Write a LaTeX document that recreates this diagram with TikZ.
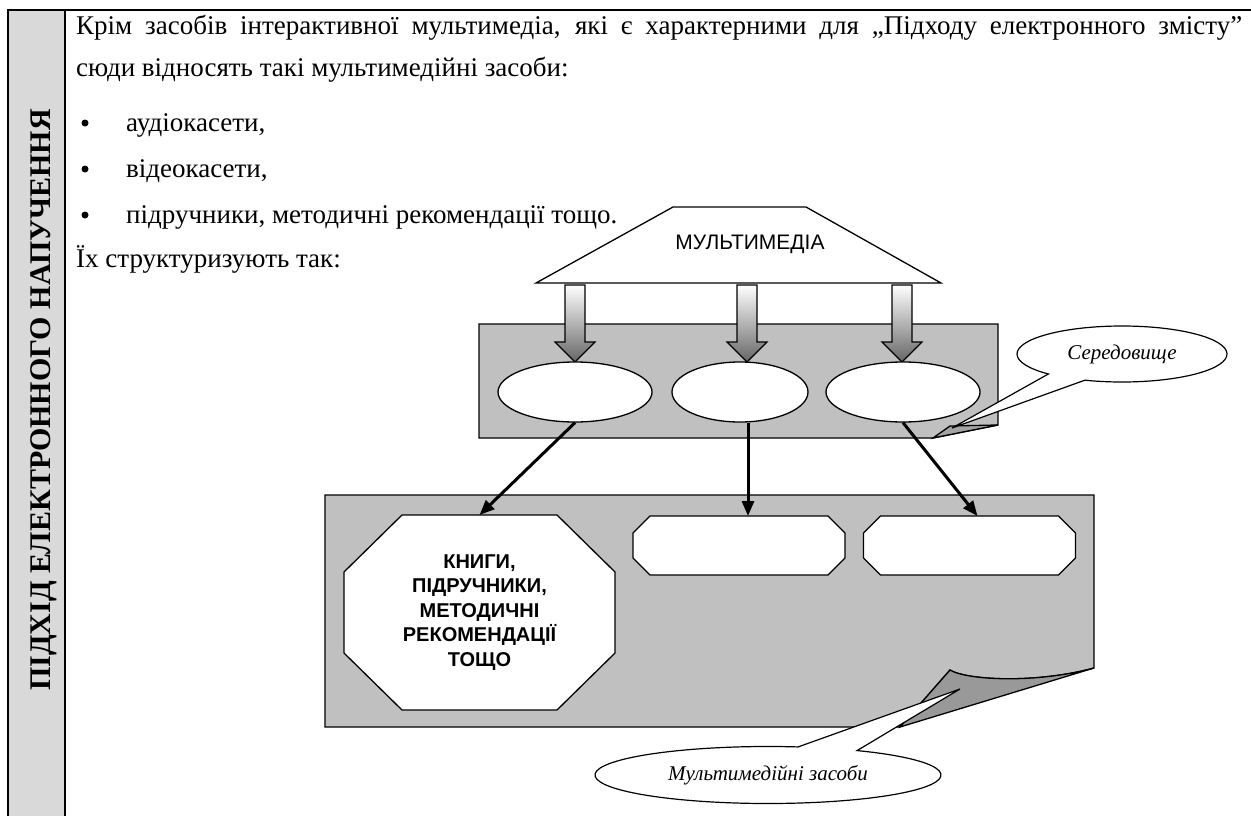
\documentclass[tikz,border=0pt]{standalone}
\usepackage{fontspec}
\setmainfont{Liberation Serif}
\newfontfamily\arialfont{Liberation Sans}
\usetikzlibrary{arrows.meta,calc,shapes.geometric}
\definecolor{sheetgray}{HTML}{C0C0C0}
\definecolor{colgray}{HTML}{D9D9D9}
\definecolor{flapgray}{HTML}{999999}

% octagon-like outline drawn around an (empty) anchor node
\newcommand\cutbox[3]{%
  \draw[shapeline, fill=white]
    ($(#1.north west)+(#2,0)$) -- ($(#1.north east)+(-#2,0)$) --
    ($(#1.north east)+(0,#3)$) -- ($(#1.south east)+(0,-#3)$) --
    ($(#1.south east)+(-#2,0)$) -- ($(#1.south west)+(#2,0)$) --
    ($(#1.south west)+(0,-#3)$) -- ($(#1.north west)+(0,#3)$) -- cycle;}

\begin{document}
\begin{tikzpicture}[x=1pt,y=-1pt,line join=miter,
  shapeline/.style={draw=black,line width=1.3pt},
  bodytext/.style={anchor=base west,inner sep=0pt,font=\fontsize{27}{31}\selectfont},
  bulletdot/.style={circle,fill=black,inner sep=0pt,minimum size=7pt},
  anchorbox/.style={inner sep=0pt,outer sep=0pt},
  flow/.style={line width=3pt,-{Triangle[length=15pt,width=12pt]}},
  calloutfont/.style={font=\itshape\fontsize{21}{25}\selectfont}]
\useasboundingbox (0,0) rectangle (1251,816);

% ---- table column with the vertical heading
\fill[colgray] (8,10) rectangle (65,816);
\draw[line width=2.2pt] (8,816) -- (8,10) -- (1251,10);
\draw[line width=2.2pt] (65,10) -- (65,816);
\node[rotate=90,inner sep=0pt,font=\bfseries\fontsize{30}{30}\selectfont] (side) at (44,400)
  {ПІДХІД ЕЛЕКТРОННОГО НАПУЧЕННЯ};

% ---- paragraph text
\node[bodytext] (l1) at (76,35) {\makebox[1166pt][s]{Крім засобів інтерактивної мультимедіа, які є характерними для „Підходу електронного змісту”}};
\node[bodytext] (l2) at (76,77) {сюди відносять такі мультимедійні засоби:};
\node[bulletdot] (b1) at (85,123) {};
\node[bodytext] (l3) at (126,131) {аудіокасети,};
\node[bulletdot] (b2) at (85,169) {};
\node[bodytext] (l4) at (126,177) {відеокасети,};
\node[bulletdot] (b3) at (85,215) {};
\node[bodytext] (l5) at (126,223) {підручники, методичні рекомендації тощо.};
\node[bodytext] (l6) at (76,267) {Їх структуризують так:};

% ---- upper sheet ("environment") with folded corner
\draw[shapeline,fill=sheetgray] (479,324) -- (998,324) -- (998,425) -- (933,438) -- (479,438) -- cycle;
\draw[shapeline,fill=sheetgray!85!black] (933,438) -- (950,426) -- (998,425) -- cycle;

% ---- block arrows from the multimedia block
\foreach \cx in {575,747,902}{
  \shade[top color=white,bottom color=black!60,draw=black,line width=1.2pt]
    (\cx-10,285) -- (\cx+10,285) -- (\cx+10,342) -- (\cx+20,342) -- (\cx,362)
    -- (\cx-20,342) -- (\cx-10,342) -- cycle;
}

% ---- multimedia trapezoid
\draw[shapeline,fill=white] (536,283) -- (673,207) -- (806,207) -- (941,283) -- cycle;
\node[inner sep=0pt,font=\arialfont\fontsize{21}{21}\selectfont] (mm) at (750,244) {МУЛЬТИМЕДІА};

% ---- ellipses on the upper sheet
\node[shapeline,fill=white,ellipse,minimum width=154pt,minimum height=60pt,inner sep=0pt] (e1) at (575,392) {};
\node[shapeline,fill=white,ellipse,minimum width=136pt,minimum height=60pt,inner sep=0pt] (e2) at (740,392) {};
\node[shapeline,fill=white,ellipse,minimum width=154pt,minimum height=60pt,inner sep=0pt] (e3) at (903,392) {};

% ---- lower sheet ("multimedia means") with curled corner
\draw[shapeline,fill=sheetgray] (325,495) -- (1094,495) -- (1094,668)
  .. controls (1035,684) and (966,680) .. (950,670) -- (900,727) -- (325,727) -- cycle;
\draw[shapeline,fill=flapgray] (950,670) .. controls (966,680) and (1035,684) .. (1094,668)
  -- (900,727) -- cycle;

% ---- boxes on the lower sheet
\node[anchorbox,minimum width=271pt,minimum height=195pt] (oct) at (479.5,612.5) {};
\cutbox{oct}{58}{57}
\node[align=center,inner sep=0pt,font=\arialfont\bfseries\fontsize{20}{24.5}\selectfont] (octtext) at (oct.center)
  {КНИГИ,\\ПІДРУЧНИКИ,\\МЕТОДИЧНІ\\РЕКОМЕНДАЦІЇ\\ТОЩО};
\node[anchorbox,minimum width=212pt,minimum height=59pt] (bx1) at (739,545.5) {};
\cutbox{bx1}{17}{17}
\node[anchorbox,minimum width=212pt,minimum height=59pt] (bx2) at (969.5,545.5) {};
\cutbox{bx2}{17}{17}

% ---- connectors
\draw[flow] (e1.south) -- (oct.north);
\draw[flow] ([xshift=8pt]e2.south) -- ([xshift=9pt]bx1.north);
\draw[flow] (e3.south) -- ([xshift=8pt]bx2.north);

% ---- callouts
\draw[shapeline,line width=1.2pt,fill=white] (1122,354) ++(134.5:105 and 28)
  arc[start angle=134.5,end angle=470.7,x radius=105,y radius=28] -- (952,428) -- cycle;
\node[calloutfont,inner sep=0pt] (env) at (1122,354) {Середовище};

\draw[shapeline,line width=1.2pt,fill=white] (768,775) ++(-59:173 and 28.5)
  arc[start angle=-59,end angle=280,x radius=173,y radius=28.5] -- (960,689) -- cycle;
\node[calloutfont,inner sep=0pt] (means) at (768,775) {Мультимедійні засоби};
\end{tikzpicture}
\end{document}
